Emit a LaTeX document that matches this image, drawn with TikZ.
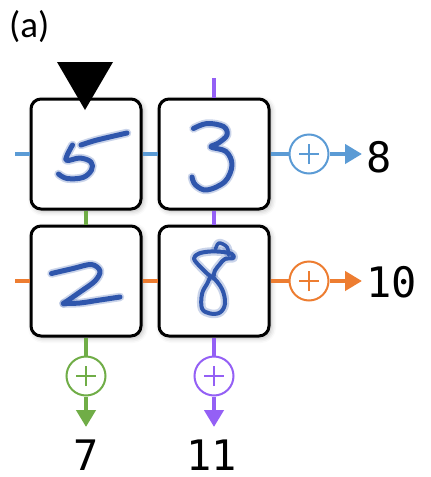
\documentclass[tikz,border=0pt]{standalone}
\usepackage{fontspec}
\setmonofont{DejaVu Sans Mono}
\newfontfamily\labelfont{Carlito}
\usetikzlibrary{arrows.meta,shadows.blur}

\definecolor{cblue}{HTML}{5B9BD5}
\definecolor{corange}{HTML}{ED7D31}
\definecolor{cgreen}{HTML}{70AD47}
\definecolor{cpurple}{HTML}{9460F5}
\definecolor{inkblue}{HTML}{2F56AC}

\tikzset{
  cell/.style={draw=black, fill=white, line width=3pt, rounded corners=10pt,
    minimum size=110pt, inner sep=0pt,
    blur shadow={shadow xshift=2pt, shadow yshift=-2pt,
      shadow blur radius=5pt, shadow opacity=30}},
  wire/.style={line width=4.5pt},
  sum/.style={circle, draw=#1, fill=white, line width=2pt, minimum size=39pt,
    inner sep=0pt,
    path picture={\draw[#1, line width=2.2pt]
      (path picture bounding box.center) +(-10pt,0pt) -- +(10pt,0pt)
      (path picture bounding box.center) +(0pt,-10pt) -- +(0pt,10pt);}},
  outarrow/.style={wire, -{Triangle[length=17pt,width=19pt]}},
  result/.style={font=\ttfamily\fontsize{42}{42}\selectfont, inner sep=0pt},
  digit/.style={draw=inkblue, line width=5pt, line cap=round, line join=round,
    preaction={draw=inkblue, line width=8.5pt, opacity=.25, line cap=round, line join=round}},
}

\begin{document}
\begin{tikzpicture}[x=1pt,y=-1pt]
\useasboundingbox (0,0) rectangle (431,477);

% panel label
\node[anchor=base west, inner sep=0pt, font=\labelfont\fontsize{37}{37}\selectfont]
  (panel) at (9,37) {(a)};

% grid cells
\node[cell] (c11) at (86,154) {};
\node[cell] (c12) at (214,154) {};
\node[cell] (c21) at (86,281) {};
\node[cell] (c22) at (214,281) {};

% row and column summation nodes
\node[sum=cblue] (s1) at (309,154) {};
\node[sum=corange] (s2) at (309,281) {};
\node[sum=cgreen] (t1) at (86,376) {};
\node[sum=cpurple] (t2) at (214,376) {};

% free ends of the wires
\coordinate (r1in) at (15,154);
\coordinate (r2in) at (15,281);
\coordinate (k2in) at (214,78);
\coordinate (r1out) at (362,154);
\coordinate (r2out) at (362,281);
\coordinate (k1out) at (86,427);
\coordinate (k2out) at (214,427);

% row wires
\draw[wire, cblue] (r1in) -- (c11.west);
\draw[wire, cblue] (c11.east) -- (c12.west);
\draw[wire, cblue] (c12.east) -- (s1.west);
\draw[outarrow, cblue] (s1.east) -- (r1out);
\draw[wire, corange] (r2in) -- (c21.west);
\draw[wire, corange] (c21.east) -- (c22.west);
\draw[wire, corange] (c22.east) -- (s2.west);
\draw[outarrow, corange] (s2.east) -- (r2out);

% column wires
\draw[wire, cgreen] (c11.south) -- (c21.north);
\draw[wire, cgreen] (c21.south) -- (t1.north);
\draw[outarrow, cgreen] (t1.south) -- (k1out);
\draw[wire, cpurple] (k2in) -- (c12.north);
\draw[wire, cpurple] (c12.south) -- (c22.north);
\draw[wire, cpurple] (c22.south) -- (t2.north);
\draw[outarrow, cpurple] (t2.south) -- (k2out);

% sums
\node[result, anchor=west] (o1) at (366,157) {8};
\node[result, anchor=west] (o2) at (366,282) {10};
\node[result] (o3) at (86,455) {7};
\node[result] (o4) at (212,455) {11};

% pointer above the first cell
\fill (57,62) -- (113,62) -- (85,110) -- cycle;

% handwritten digits
% 5
\draw[digit] plot[smooth, tension=0.5] coordinates {(81,145) (97,140) (127,133)};
\draw[digit] plot[smooth, tension=0.6] coordinates {(72.5,145) (66,160) (80,158) (91,162) (91.5,170) (83,177.5) (67,178.5) (58.5,174)};
% 3
\draw[digit] plot[smooth, tension=0.6] coordinates {(193.5,128.5) (207,123.5) (223.5,126.5) (227,135) (218.5,143) (211,147)
  (226,151.5) (232,165) (225,181.5) (207,190) (195.5,185) (192,177)};
% 2
\draw[digit] plot[smooth, tension=0.55] coordinates {(51.5,273.5) (73,268.5) (91.5,264.5) (100,271) (95,281) (80,292) (63.5,303.5)};
\draw[digit] plot[smooth, tension=0.5] coordinates {(63.5,303.5) (80,303) (100,300) (120,297)};
% 8
\draw[digit, line width=4pt] plot[smooth cycle, tension=0.6] coordinates {(212,277) (200.5,267) (194,258.5) (199,253.5) (210.5,251.5)
  (223.5,252) (232,254) (233.5,258) (225,259) (220,264) (215,270.5)};
\draw[digit, line width=4pt] plot[smooth cycle, tension=0.6] coordinates {(212,277) (222,289) (225,303.5) (220,312.5) (210,313.5)
  (202,308.5) (202,294) (207,284)};
\draw[digit, line width=3.5pt] plot[smooth, tension=0.6] coordinates {(215.5,249) (219,243) (227,247) (228.5,255)};
\end{tikzpicture}
\end{document}
